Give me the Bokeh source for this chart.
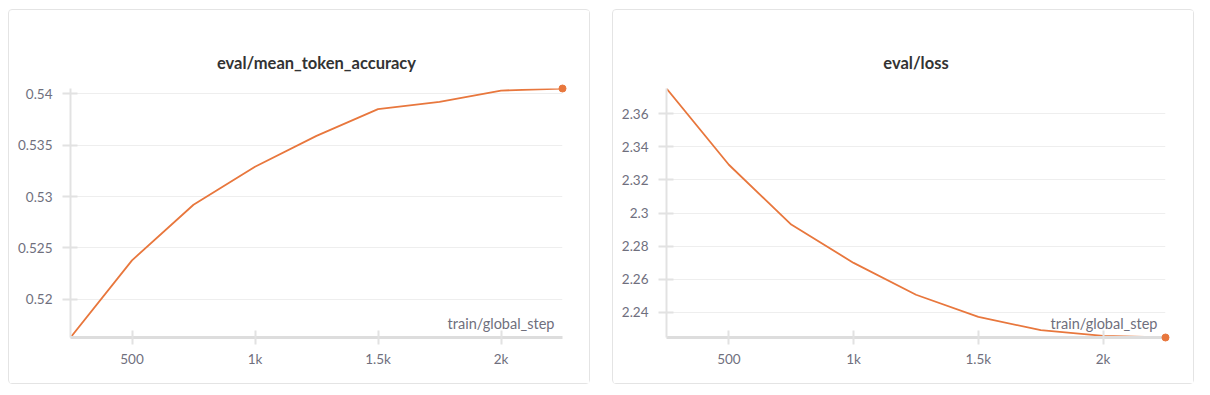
from bokeh.plotting import figure
from bokeh.models import Range1d, FixedTicker, Label
from bokeh.layouts import row
from bokeh.embed import file_html
from bokeh.resources import INLINE

steps = [250, 500, 750, 1000, 1250, 1500, 1750, 2000, 2250]
accuracy = [0.5163, 0.5238, 0.5292, 0.5329, 0.5359, 0.5385, 0.5392, 0.5403, 0.5405]
loss = [2.3751, 2.3291, 2.2930, 2.2699, 2.2507, 2.2374, 2.2293, 2.2259, 2.2249]

x_ticks = [500, 1000, 1500, 2000]
x_tick_labels = ["500", "1k", "1.5k", "2k"]
acc_ticks = [0.52, 0.525, 0.53, 0.535, 0.54]
acc_tick_labels = ["0.52", "0.525", "0.53", "0.535", "0.54"]
loss_ticks = [2.24, 2.26, 2.28, 2.30, 2.32, 2.34, 2.36]
loss_tick_labels = ["2.24", "2.26", "2.28", "2.3", "2.32", "2.34", "2.36"]

titles = ["eval/mean_token_accuracy", "eval/loss"]
x_label = "train/global_step"

LINE = "#e8773d"
TICK_TXT = "#6f6f7d"
AXIS = "#e2e2e2"
FONT = "Lato"


def make(title, ys, yticks, ylabels, left, right):
    p = figure(width=582, height=375, output_backend="svg", toolbar_location=None,
               x_range=Range1d(steps[0], steps[-1]),
               y_range=Range1d(min(ys), max(ys)),
               min_border_left=left, min_border_right=right,
               min_border_top=78, min_border_bottom=48)
    p.styles = {"border": "1px solid #e4e4e4", "border-radius": "4px", "box-sizing": "border-box"}
    p.title.text = title
    p.title.align = "center"
    p.title.text_font = FONT
    p.title.text_font_size = "16.5px"
    p.title.text_font_style = "bold"
    p.title.text_color = "#333333"
    p.title.standoff = 32
    p.outline_line_color = None
    p.background_fill_color = "white"
    p.border_fill_color = "white"

    p.xgrid.grid_line_color = None
    p.ygrid.grid_line_color = "#eeeeee"
    p.ygrid.grid_line_width = 1

    p.xaxis.ticker = FixedTicker(ticks=x_ticks)
    p.xaxis.major_label_overrides = {t: l for t, l in zip(x_ticks, x_tick_labels)}
    p.yaxis.ticker = FixedTicker(ticks=yticks)
    p.yaxis.major_label_overrides = {t: l for t, l in zip(yticks, ylabels)}

    for ax in (p.xaxis, p.yaxis):
        ax.axis_line_color = AXIS
        ax.axis_line_width = 2
        ax.major_tick_line_color = AXIS
        ax.major_tick_line_width = 2
        ax.minor_tick_line_color = None
        ax.major_label_text_color = TICK_TXT
        ax.major_label_text_font = FONT
        ax.major_label_text_font_size = "13.5px"
        ax.major_label_standoff = 10
    p.xaxis.major_label_standoff = 6
    p.xaxis.major_tick_in = 7
    p.xaxis.major_tick_out = 7
    p.yaxis.major_tick_in = 7
    p.yaxis.major_tick_out = 8
    p.xaxis.axis_line_color = "#dddddd"
    p.xaxis.axis_line_width = 3

    p.line(steps, ys, line_color=LINE, line_width=1.8)
    p.scatter([steps[-1]], [ys[-1]], size=7, fill_color=LINE, line_color=LINE,
              level="overlay")

    lab = Label(x=steps[-1], y=min(ys), text=x_label, x_offset=-8, y_offset=6,
                text_align="right", text_baseline="bottom", text_color=TICK_TXT,
                text_font=FONT, text_font_size="14.5px")
    p.add_layout(lab)
    return p


p1 = make(titles[0], accuracy, acc_ticks, acc_tick_labels, 61, 29)
p2 = make(titles[1], loss, loss_ticks, loss_tick_labels, 53, 30)
layout = row(p1, p2, spacing=22, margin=(9, 0, 0, 8))

open("out.html", "w").write(file_html(layout, INLINE))
